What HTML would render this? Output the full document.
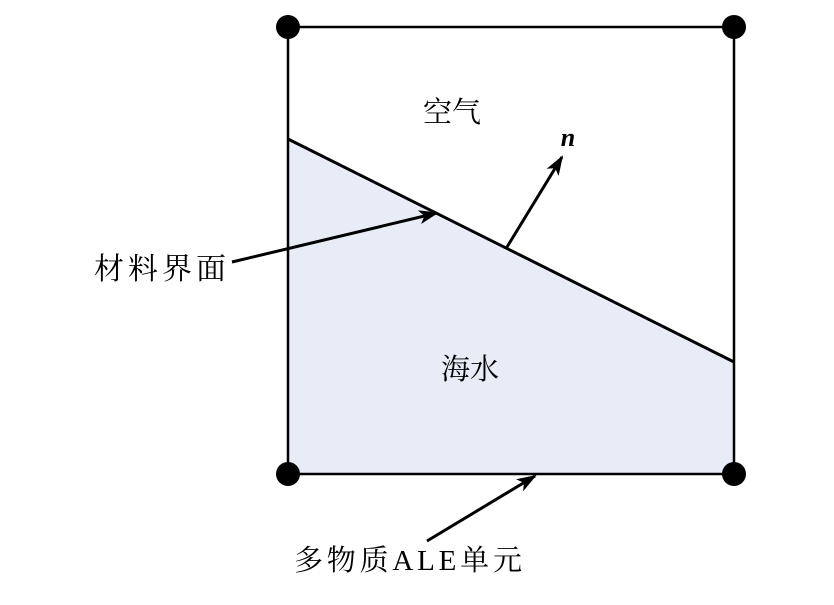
<!DOCTYPE html>
<html><head><meta charset="utf-8"><style>
html,body{margin:0;padding:0;background:#fff;}
svg{display:block;}
text{font-family:"Liberation Serif","Noto Serif CJK SC",serif;fill:#000;}
</style></head><body>
<svg width="834" height="605" viewBox="0 0 834 605" xmlns="http://www.w3.org/2000/svg">
<defs>
<marker id="ah" markerWidth="20" markerHeight="14" refX="18" refY="7" orient="auto" markerUnits="userSpaceOnUse" viewBox="0 0 20 14">
<path d="M0,0 L20,7 L0,14 L5,7 Z" fill="#000"/>
</marker>
</defs>
<polygon points="288,139 734,362 734,474 288,474" fill="#e8ecf7"/>
<rect x="288" y="27" width="446" height="447" fill="none" stroke="#000" stroke-width="2.5"/>
<line x1="288" y1="139" x2="734" y2="362" stroke="#000" stroke-width="3"/>
<circle cx="288" cy="27" r="12" fill="#000"/>
<circle cx="734" cy="27" r="12" fill="#000"/>
<circle cx="288" cy="474" r="12" fill="#000"/>
<circle cx="734" cy="474" r="12" fill="#000"/>
<line x1="507" y1="247" x2="562" y2="157" stroke="#000" stroke-width="3" marker-end="url(#ah)"/>
<line x1="232" y1="262" x2="437" y2="213" stroke="#000" stroke-width="3" marker-end="url(#ah)"/>
<line x1="427" y1="541" x2="535" y2="476" stroke="#000" stroke-width="3" marker-end="url(#ah)"/>
<text x="568" y="146" font-size="26" font-weight="bold" font-style="italic" text-anchor="middle">n</text>
<text x="452" y="122" font-size="29" text-anchor="middle">空气</text>
<text x="470" y="379" font-size="29" text-anchor="middle">海水</text>
<text x="94" y="279" font-size="30" textLength="132">材料界面</text>
<text x="294" y="570" font-size="29" textLength="228">多物质ALE单元</text>
</svg>
</body></html>
